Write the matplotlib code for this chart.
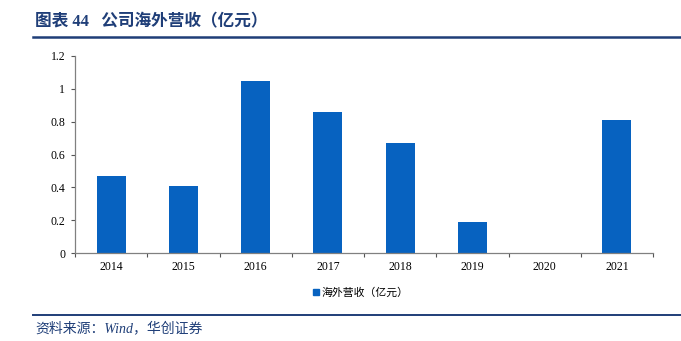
import matplotlib
matplotlib.use("Agg")
import matplotlib.pyplot as plt
from matplotlib.lines import Line2D
import numpy as np

years = ["2014", "2015", "2016", "2017", "2018", "2019", "2020", "2021"]
overseas_revenue = [0.47, 0.41, 1.05, 0.86, 0.67, 0.19, 0.0, 0.81]
y_ticks = [0, 0.2, 0.4, 0.6, 0.8, 1, 1.2]
y_tick_labels = ["0", "0.2", "0.4", "0.6", "0.8", "1", "1.2"]

title_text = "图表 44   公司海外营收（亿元）"
legend_text = "海外营收（亿元）"
source_text = "资料来源：Wind，华创证券"

BAR_COLOR = "#0762C0"
NAVY = "#1F3E78"
SERIF = ["Liberation Serif", "DejaVu Serif"]
CJK = ["Noto Sans CJK SC", "DejaVu Sans"]
MIXED = ["Liberation Serif", "Noto Sans CJK SC", "DejaVu Sans"]

fig = plt.figure(figsize=(6.81, 3.41), dpi=100)
W, H = 681, 341

ax = fig.add_axes([75 / W, 1 - 253 / H, (653 - 75) / W, (253 - 56) / H])
x = np.arange(len(years))
ax.bar(x, overseas_revenue, width=0.4, color=BAR_COLOR, zorder=2)

ax.set_xlim(-0.5, len(years) - 0.5)
ax.set_ylim(0, 1.2)
ax.set_yticks(y_ticks)
ax.set_yticklabels(y_tick_labels, fontfamily=SERIF, fontsize=8.5)
ax.set_xticks(x)
ax.set_xticklabels(years, fontfamily=SERIF, fontsize=8.5)
ax.tick_params(axis="x", length=0, pad=6)
ax.tick_params(axis="y", length=3, width=0.8, color="#555555", pad=4)
# category boundary ticks on the x axis
ax.set_xticks(np.arange(-0.5, len(years) + 0.5, 1), minor=True)
ax.tick_params(axis="x", which="minor", length=3, width=0.8, color="#555555", direction="out")

for s in ("top", "right"):
    ax.spines[s].set_visible(False)
for s in ("left", "bottom"):
    ax.spines[s].set_color("#808080")
    ax.spines[s].set_linewidth(0.9)

# legend
handle = Line2D([], [], marker="s", linestyle="none", color=BAR_COLOR, markersize=5)
fig.legend([handle], [legend_text], loc="center", bbox_to_anchor=(360 / W, 1 - 293 / H),
           frameon=False, prop={"family": CJK, "size": 7.8}, handletextpad=0.1,
           handlelength=0.8)

# header
fig.text(35 / W, 1 - 22 / H, title_text, fontfamily=MIXED, fontsize=12,
         fontweight="bold", color=NAVY, va="center", ha="left")
fig.add_artist(Line2D([33 / W, 1.0], [1 - 37 / H, 1 - 37 / H], color=NAVY, linewidth=1.8))

# footer
fig.add_artist(Line2D([33 / W, 1.0], [1 - 315 / H, 1 - 315 / H], color=NAVY, linewidth=1.4))
fig.text(35 / W, 1 - 328 / H, source_text, fontfamily=MIXED, fontsize=10,
         style="italic", color=NAVY, va="center", ha="left")

fig.savefig("out.png", dpi=100)
